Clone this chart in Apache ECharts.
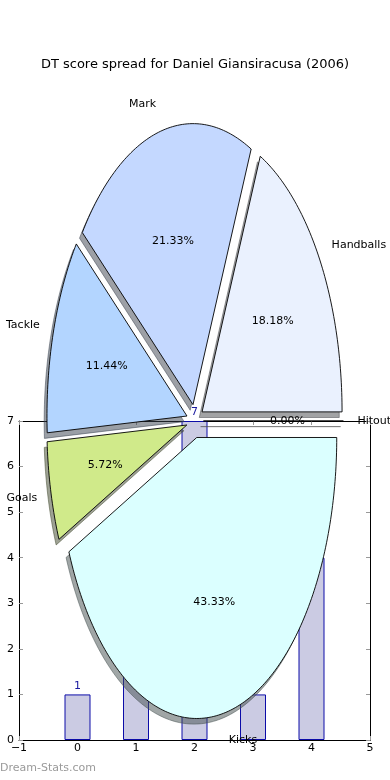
<!DOCTYPE html>
<html><head><meta charset="utf-8">
<script src="https://cdn.jsdelivr.net/npm/echarts@6.0.0/dist/echarts.min.js"></script>
<style>html,body{margin:0;padding:0;background:#fff}#c{width:390px;height:780px}</style>
</head><body><div id="c"></div>
<script>
// ---- data ----
const chartTitle = 'DT score spread for Daniel Giansiracusa (2006)';
const watermark = 'Dream-Stats.com';
const barX = [0, 1, 2, 3, 4];
const barValues = [1, 3, 7, 1, 4];
const xTickValues = [-1, 0, 1, 2, 3, 4, 5];
const yTickValues = [0, 1, 2, 3, 4, 5, 6, 7];
const sliceNames = ['Hitout', 'Handballs', 'Mark', 'Tackle', 'Goals', 'Kicks'];
const sliceValues = [0, 18.18, 21.33, 11.44, 5.72, 43.33];
const sliceColors = ['#ffffff', '#eaf1fe', '#c4d8ff', '#b3d5ff', '#d0ea8a', '#dbffff'];

// ---- style constants ----
const FONT = 'DejaVu Sans';
const explode = 0.06, labelDist = 1.1, pctDist = 0.6, shadowOff = 0.02;

const total = sliceValues.reduce((a, b) => a + b, 0);
function sliceAngles(i) {
  let s = 0;
  for (let k = 0; k < i; k++) s += sliceValues[k];
  const a1 = s / total * 2 * Math.PI;
  const a2 = (s + sliceValues[i]) / total * 2 * Math.PI;
  return [a1, a2];
}
function hexToShadow(hex) {
  const r = parseInt(hex.slice(1, 3), 16), g = parseInt(hex.slice(3, 5), 16), b = parseInt(hex.slice(5, 7), 16);
  return 'rgba(' + Math.round(r * 0.3) + ',' + Math.round(g * 0.3) + ',' + Math.round(b * 0.3) + ',0.5)';
}
function wedgePoints(api, i, off) {
  const [a1, a2] = sliceAngles(i);
  const mid = (a1 + a2) / 2;
  const cx = explode * Math.cos(mid) + off, cy = explode * Math.sin(mid) + off;
  const pts = [api.coord([cx, cy])];
  const n = Math.max(1, Math.ceil((a2 - a1) / (Math.PI / 180)));
  for (let s = 0; s <= n; s++) {
    const t = a1 + (a2 - a1) * s / n;
    pts.push(api.coord([cx + Math.cos(t), cy + Math.sin(t)]));
  }
  return { pts, mid, cx, cy };
}
const minus = v => String(v).replace('-', '\u2212');

const chart = echarts.init(document.getElementById('c'), null, { renderer: 'canvas' });
const axisLabelStyle = { color: '#000', fontSize: 11, fontFamily: FONT };
chart.setOption({
  animation: false,
  backgroundColor: '#fff',
  title: {
    text: chartTitle, left: 'center', top: 53,
    textStyle: { color: '#000', fontSize: 13, fontWeight: 'normal', fontFamily: FONT }
  },
  graphic: [{
    type: 'text', left: 0, top: 763,
    style: { text: watermark, fill: '#9a9a9a', font: '11px ' + FONT }
  }],
  grid: [
    { left: 19, top: 421, width: 351, height: 319 },
    { left: 13, top: 83.8, width: 364, height: 674.4 }
  ],
  xAxis: [
    { type: 'value', gridIndex: 0, min: xTickValues[0], max: xTickValues[xTickValues.length - 1], interval: 1,
      axisLine: { show: true, onZero: false, lineStyle: { color: '#000', width: 1 } },
      axisTick: { show: true, inside: true, length: 4, lineStyle: { color: '#999' } },
      splitLine: { show: false },
      axisLabel: Object.assign({ margin: 3, formatter: minus }, axisLabelStyle) },
    { type: 'value', gridIndex: 0, position: 'top', min: xTickValues[0], max: xTickValues[xTickValues.length - 1], interval: 1,
      axisLine: { show: true, onZero: false, lineStyle: { color: '#000', width: 1 } },
      axisTick: { show: true, inside: true, length: 4, lineStyle: { color: '#999' } },
      splitLine: { show: false }, axisLabel: { show: false } },
    { type: 'value', gridIndex: 1, min: -1.3, max: 1.3, show: false }
  ],
  yAxis: [
    { type: 'value', gridIndex: 0, position: 'left', min: yTickValues[0], max: yTickValues[yTickValues.length - 1], interval: 1,
      axisLine: { show: true, onZero: false, lineStyle: { color: '#000', width: 1 } },
      axisTick: { show: true, inside: true, length: 4, lineStyle: { color: '#999' } },
      splitLine: { show: false },
      axisLabel: Object.assign({ margin: 5, formatter: minus }, axisLabelStyle) },
    { type: 'value', gridIndex: 0, position: 'right', min: yTickValues[0], max: yTickValues[yTickValues.length - 1], interval: 1,
      axisLine: { show: true, onZero: false, lineStyle: { color: '#000', width: 1 } },
      axisTick: { show: true, inside: true, length: 4, lineStyle: { color: '#999' } },
      splitLine: { show: false }, axisLabel: { show: false } },
    { type: 'value', gridIndex: 1, min: -1.2, max: 1.2, show: false }
  ],
  series: [
    {
      type: 'bar', xAxisIndex: 0, yAxisIndex: 0, z: 2,
      data: barX.map((x, i) => [x, barValues[i]]),
      barWidth: 26,
      itemStyle: { color: '#cbcbe3', borderColor: '#0c0ca8', borderWidth: 1 },
      label: { show: true, position: 'top', distance: 3, color: '#1a1aa0', fontSize: 11, fontFamily: FONT,
               formatter: p => String(p.value[1]) }
    },
    {
      type: 'custom', xAxisIndex: 2, yAxisIndex: 2, z: 5, clip: false, silent: true,
      data: sliceValues.map((v, i) => [i, v]),
      renderItem: (params, api) => {
        const i = params.dataIndex;
        const w = wedgePoints(api, i, -shadowOff);
        const c = hexToShadow(sliceColors[i]);
        return { type: 'polygon', shape: { points: w.pts },
                 style: { fill: c, stroke: c, lineWidth: 1 } };
      }
    },
    {
      type: 'custom', xAxisIndex: 2, yAxisIndex: 2, z: 6, clip: false, silent: true,
      data: sliceValues.map((v, i) => [i, v]),
      renderItem: (params, api) => {
        const i = params.dataIndex;
        const w = wedgePoints(api, i, 0);
        const cos = Math.cos(w.mid), sin = Math.sin(w.mid);
        const lp = api.coord([w.cx + labelDist * cos, w.cy + labelDist * sin]);
        const pp = api.coord([w.cx + pctDist * cos, w.cy + pctDist * sin]);
        const pct = (api.value(1) / total * 100).toFixed(2) + '%';
        return {
          type: 'group',
          children: [
            { type: 'polygon', shape: { points: w.pts },
              style: { fill: sliceColors[i], stroke: '#000', lineWidth: 0.9 } },
            { type: 'text', x: lp[0], y: lp[1], z2: 10,
              style: { text: sliceNames[i], fill: '#000', font: '11px ' + FONT,
                       align: cos > 0 ? 'left' : 'right', verticalAlign: 'middle' } },
            { type: 'text', x: pp[0], y: pp[1], z2: 10,
              style: { text: pct, fill: '#000', font: '11px ' + FONT,
                       align: 'center', verticalAlign: 'middle' } }
          ]
        };
      }
    }
  ]
});
</script>
</body></html>
